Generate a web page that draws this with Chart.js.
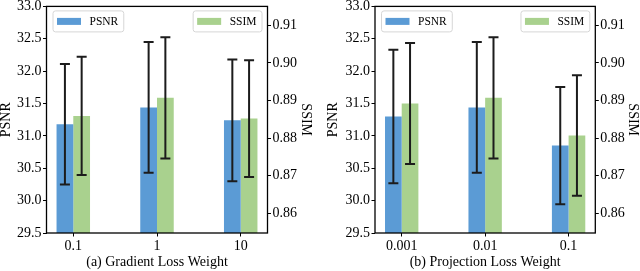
<!DOCTYPE html>
<html>
<head>
<meta charset="utf-8">
<script src="https://cdn.jsdelivr.net/npm/chart.js@4.4.1/dist/chart.umd.min.js"></script>
<style>
  html, body { margin: 0; padding: 0; background: #fff; }
  #wrap { position: relative; width: 640px; height: 271px; }
  .panel { position: absolute; top: 0; width: 320px; height: 271px; }
</style>
</head>
<body>
<div id="wrap">
  <div class="panel" style="left:0"><canvas id="chartA" width="320" height="271"></canvas></div>
  <div class="panel" style="left:320px"><canvas id="chartB" width="320" height="271"></canvas></div>
</div>
<script>
// values (mean and +/- error)
const gradLabels = ["0.1", "1", "10"];
const gradPsnr = [31.18, 31.44, 31.24];
const gradPsnrErr = [0.93, 1.01, 0.94];
const gradSsim = [0.8859, 0.8907, 0.8852];
const gradSsimErr = [0.0157, 0.0161, 0.0155];

const projLabels = ["0.001", "0.01", "0.1"];
const projPsnr = [31.30, 31.44, 30.85];
const projPsnrErr = [1.03, 1.01, 0.905];
const projSsim = [0.8892, 0.8907, 0.8807];
const projSsimErr = [0.0161, 0.0161, 0.0160];

const psnrTicks = [29.5, 30.0, 30.5, 31.0, 31.5, 32.0, 32.5, 33.0];
const ssimTicks = [0.86, 0.87, 0.88, 0.89, 0.90, 0.91];

const BLUE = "#5b9bd5";
const GREEN = "#a9d18e";
const FONT = "'Liberation Serif', 'Times New Roman', serif";

Chart.defaults.font.family = FONT;
Chart.defaults.color = "#000";

// error bars drawn from the dataset's errors through its y scale
const errorBars = {
  id: "errorBars",
  afterDatasetsDraw(chart) {
    const ctx = chart.ctx;
    ctx.save();
    ctx.strokeStyle = "#1c1c1c";
    ctx.lineWidth = 2;
    chart.data.datasets.forEach((ds, i) => {
      const meta = chart.getDatasetMeta(i);
      const scale = chart.scales[ds.yAxisID];
      meta.data.forEach((bar, j) => {
        const v = ds.data[j].y, e = ds.errors[j];
        const yTop = scale.getPixelForValue(v + e);
        const yBot = scale.getPixelForValue(v - e);
        const x = bar.x;
        ctx.beginPath();
        ctx.moveTo(x, yTop); ctx.lineTo(x, yBot);
        ctx.moveTo(x - 5, yTop); ctx.lineTo(x + 5, yTop);
        ctx.moveTo(x - 5, yBot); ctx.lineTo(x + 5, yBot);
        ctx.stroke();
      });
    });
    ctx.restore();
  }
};

function legendBox(ctx, x, y, color, text, fromRight) {
  ctx.font = "11.5px " + FONT;
  const tw = ctx.measureText(text).width;
  const w = 4.5 + 24 + 8.5 + tw + 5;
  const h = 21;
  const left = fromRight ? x - w : x;
  ctx.beginPath();
  if (ctx.roundRect) ctx.roundRect(left + 0.5, y + 0.5, w, h, 2.5);
  else ctx.rect(left + 0.5, y + 0.5, w, h);
  ctx.fillStyle = "rgba(255,255,255,0.85)";
  ctx.fill();
  ctx.strokeStyle = "#d6d6d6";
  ctx.lineWidth = 1;
  ctx.stroke();
  ctx.fillStyle = color;
  ctx.fillRect(left + 4.5, y + h / 2 - 3, 24, 7);
  ctx.fillStyle = "#000";
  ctx.textBaseline = "middle";
  ctx.textAlign = "left";
  ctx.fillText(text, left + 4.5 + 24 + 8.5, y + h / 2 + 1);
}

// axes frame + the two inner legends
const frameAndLegend = {
  id: "frameAndLegend",
  afterDraw(chart) {
    const ctx = chart.ctx;
    const a = chart.chartArea;
    ctx.save();
    ctx.strokeStyle = "#000";
    ctx.lineWidth = 1.3;
    ctx.strokeRect(a.left, a.top, a.right - a.left, a.bottom - a.top);
    legendBox(ctx, a.left + 6, a.top + 4, BLUE, "PSNR", false);
    legendBox(ctx, a.right - 6, a.top + 4, GREEN, "SSIM", true);
    ctx.restore();
  }
};

function makeChart(id, labels, psnr, psnrErr, ssim, ssimErr, title, lay) {
  return new Chart(document.getElementById(id), {
    type: "bar",
    data: {
      datasets: [
        {
          label: "PSNR",
          data: psnr.map((v, i) => ({ x: i, y: v })),
          errors: psnrErr,
          yAxisID: "y",
          backgroundColor: BLUE,
          categoryPercentage: 0.4,
          barPercentage: 1,
        },
        {
          label: "SSIM",
          data: ssim.map((v, i) => ({ x: i, y: v })),
          errors: ssimErr,
          yAxisID: "y1",
          backgroundColor: GREEN,
          categoryPercentage: 0.4,
          barPercentage: 1,
        },
      ],
    },
    options: {
      responsive: false,
      animation: false,
      devicePixelRatio: 1,
      layout: { padding: lay.padding },
      plugins: { legend: { display: false }, tooltip: { enabled: false } },
      scales: {
        x: {
          type: "linear",
          offset: false,
          min: -0.32,
          max: 2.32,
          afterBuildTicks: (s) => { s.ticks = labels.map((_, i) => ({ value: i })); },
          afterFit: (s) => { s.height = 38; },
          ticks: { callback: (v) => labels[v], padding: 1, font: { size: 14 }, autoSkip: false, maxRotation: 0 },
          grid: { drawOnChartArea: false, offset: false, tickLength: 3.5, color: "#000" },
          border: { display: false },
          title: { display: true, text: title, font: { size: 14 }, padding: { top: 0, bottom: 0.5 } },
        },
        y: {
          position: "left",
          min: 29.5,
          max: 33,
          afterBuildTicks: (s) => { s.ticks = psnrTicks.map((v) => ({ value: v })); },
          afterFit: (s) => { s.width = lay.leftW; },
          ticks: { callback: (v) => v.toFixed(1), padding: 1.5, font: { size: 14, lineHeight: 0.7 } },
          grid: { drawOnChartArea: false, tickLength: 3.5, color: "#000" },
          border: { display: false },
          title: { display: true, text: "PSNR", font: { size: 14, lineHeight: 0.857 }, padding: { top: lay.leftTitlePad, bottom: 0 } },
        },
        y1: {
          position: "right",
          min: 0.8548,
          max: 0.915,
          afterBuildTicks: (s) => { s.ticks = ssimTicks.map((v) => ({ value: v })); },
          afterFit: (s) => { s.width = lay.rightW; },
          ticks: { callback: (v) => v.toFixed(2), padding: 1.5, font: { size: 14, lineHeight: 0.7 } },
          grid: { drawOnChartArea: false, tickLength: 3.5, color: "#000" },
          border: { display: false },
          title: { display: true, text: "SSIM", font: { size: 14, lineHeight: 0.857 }, padding: { top: lay.rightTitlePad, bottom: 0 } },
        },
      },
    },
    plugins: [errorBars, frameAndLegend],
  });
}

makeChart("chartA", gradLabels, gradPsnr, gradPsnrErr, gradSsim, gradSsimErr,
  "(a) Gradient Loss Weight",
  { padding: { top: 5, left: 0, right: 0, bottom: 0 }, leftW: 46.5, rightW: 52.5, leftTitlePad: 0, rightTitlePad: 8 });

makeChart("chartB", projLabels, projPsnr, projPsnrErr, projSsim, projSsimErr,
  "(b) Projection Loss Weight",
  { padding: { top: 5, left: 7, right: 0, bottom: 0 }, leftW: 48, rightW: 44.7, leftTitlePad: 0, rightTitlePad: 1 });
</script>
</body>
</html>
